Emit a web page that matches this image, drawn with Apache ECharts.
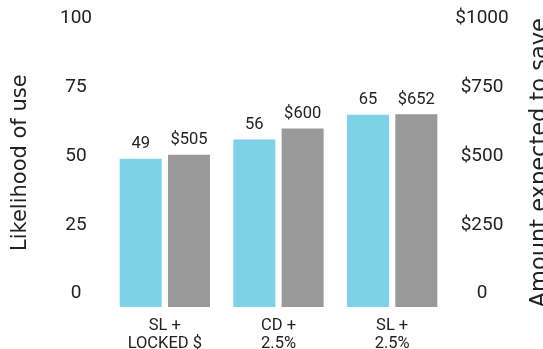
<!DOCTYPE html>
<html><head><meta charset="utf-8">
<script src="https://cdn.jsdelivr.net/npm/echarts@6/dist/echarts.min.js"></script>
<style>html,body{margin:0;padding:0;background:#fff}#c{width:543px;height:349px}</style>
</head><body><div id="c"></div>
<script>
const categories = ['SL +\nLOCKED $', 'CD +\n2.5%', 'SL +\n2.5%'];
const likelihood = [49, 56, 65];
const amountSaved = [505, 600, 652];
const leftTicks = [0, 25, 50, 75, 100];
const rightTicks = [0, 250, 500, 750, 1000];

const chart = echarts.init(document.getElementById('c'), null, {renderer: 'canvas'});
const font = 'Roboto';
const titleFont = 'DejaVu Sans';
chart.setOption({
  animation: false,
  textStyle: {fontFamily: font},
  grid: {left: 108, right: 94, top: 18.5, bottom: 42, outerBoundsMode: 'none', containLabel: false},
  xAxis: {
    type: 'category', data: categories,
    axisLine: {show: false}, axisTick: {show: false},
    axisLabel: {fontFamily: font, fontSize: 16.5, lineHeight: 18, color: '#222', margin: 10, interval: 0}
  },
  yAxis: [{
    type: 'value', min: -4.9, max: 100, startValue: -4.9,
    splitLine: {show: false}, axisLine: {show: false}, axisTick: {show: false},
    axisLabel: {customValues: leftTicks, fontFamily: font, fontSize: 19, color: '#222', align: 'center', margin: 32},
    name: 'Likelihood of use', nameLocation: 'middle', nameRotate: 90, nameGap: 77,
    nameTextStyle: {fontFamily: titleFont, fontSize: 21, color: '#222'}
  }, {
    type: 'value', min: -49, max: 1000, startValue: -49, position: 'right',
    splitLine: {show: false}, axisLine: {show: false}, axisTick: {show: false},
    axisLabel: {customValues: rightTicks, fontFamily: font, fontSize: 19, color: '#222', align: 'center', margin: 33,
      formatter: v => v === 0 ? '0' : '$' + v},
    name: 'Amount expected to save', nameLocation: 'middle', nameRotate: 90, nameGap: 80,
    nameTextStyle: {fontFamily: titleFont, fontSize: 22.5, color: '#222'}
  }],
  series: [{
    type: 'bar', data: likelihood, yAxisIndex: 0, barWidth: 42, barGap: '15%',
    itemStyle: {color: '#7dd2e8'},
    label: {show: true, position: 'top', distance: 6, fontFamily: font, fontSize: 16.5, color: '#222'}
  }, {
    type: 'bar', data: amountSaved, yAxisIndex: 1, barWidth: 42, barGap: '15%',
    itemStyle: {color: '#999999'},
    label: {show: true, position: 'top', distance: 6, fontFamily: font, fontSize: 16.5, color: '#222',
      formatter: p => '$' + p.value}
  }]
});
</script></body></html>
